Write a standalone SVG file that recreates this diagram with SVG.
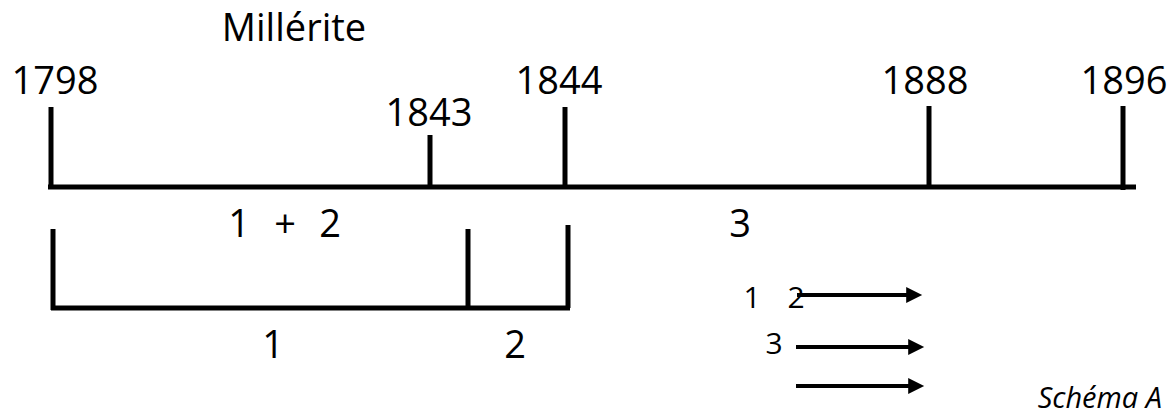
<svg xmlns="http://www.w3.org/2000/svg" width="1169" height="414" viewBox="0 0 1169 414">
<style>
text{font-family:"Open Sans","Liberation Sans",sans-serif;fill:#000}
.big{font-size:38px}
.sm{font-size:30px}
.cap{font-size:29px;font-style:italic}
line{stroke:#000;stroke-width:5}
.arr{stroke-width:4}
</style>
<defs>
<marker id="ah" markerWidth="4.5" markerHeight="4.5" refX="0.2" refY="2" orient="auto" markerUnits="strokeWidth">
<path d="M0,0 L4,2 L0,4 Z" fill="#000"/>
</marker>
</defs>
<g id="title"><text class="big" x="294" y="41" text-anchor="middle">Millérite</text></g>
<g id="timeline">
<line x1="48" y1="187" x2="1136" y2="187"/>
</g>
<g id="t1798"><line x1="51" y1="107" x2="51" y2="187"/><text class="big" x="55" y="94" text-anchor="middle">1798</text></g>
<g id="t1843"><line x1="430" y1="135" x2="430" y2="187"/><text class="big" x="429" y="126" text-anchor="middle">1843</text></g>
<g id="t1844"><line x1="565" y1="107" x2="565" y2="187"/><text class="big" x="559" y="94" text-anchor="middle">1844</text></g>
<g id="t1888"><line x1="929" y1="106" x2="929" y2="187"/><text class="big" x="925" y="94" text-anchor="middle">1888</text></g>
<g id="t1896"><line x1="1123" y1="106" x2="1123" y2="190"/><text class="big" x="1124" y="94" text-anchor="middle">1896</text></g>
<g id="periods">
<text class="big" x="239" y="237" text-anchor="middle">1</text>
<text class="big" x="285" y="237" text-anchor="middle">+</text>
<text class="big" x="330" y="237" text-anchor="middle">2</text>
<text class="big" x="740" y="237" text-anchor="middle">3</text>
</g>
<g id="bracket">
<line x1="53" y1="229" x2="53" y2="310"/>
<line x1="51" y1="308" x2="570" y2="308"/>
<line x1="468" y1="229" x2="468" y2="310"/>
<line x1="568" y1="225" x2="568" y2="308"/>
<text class="big" x="273" y="358" text-anchor="middle">1</text>
<text class="big" x="515" y="358" text-anchor="middle">2</text>
</g>
<g id="legend">
<text class="sm" x="752" y="308" text-anchor="middle">1</text>
<text class="sm" x="796" y="308" text-anchor="middle">2</text>
<text class="sm" x="774" y="354" text-anchor="middle">3</text>
</g>
<g id="connectors">
<line class="arr" x1="797" y1="295" x2="907" y2="295" marker-end="url(#ah)"/>
<line class="arr" x1="796" y1="347" x2="909" y2="347" marker-end="url(#ah)"/>
<line class="arr" x1="796" y1="386" x2="909" y2="386" marker-end="url(#ah)"/>
</g>
<g id="caption"><text class="cap" x="1162" y="408" text-anchor="end">Schéma A</text></g>
</svg>
